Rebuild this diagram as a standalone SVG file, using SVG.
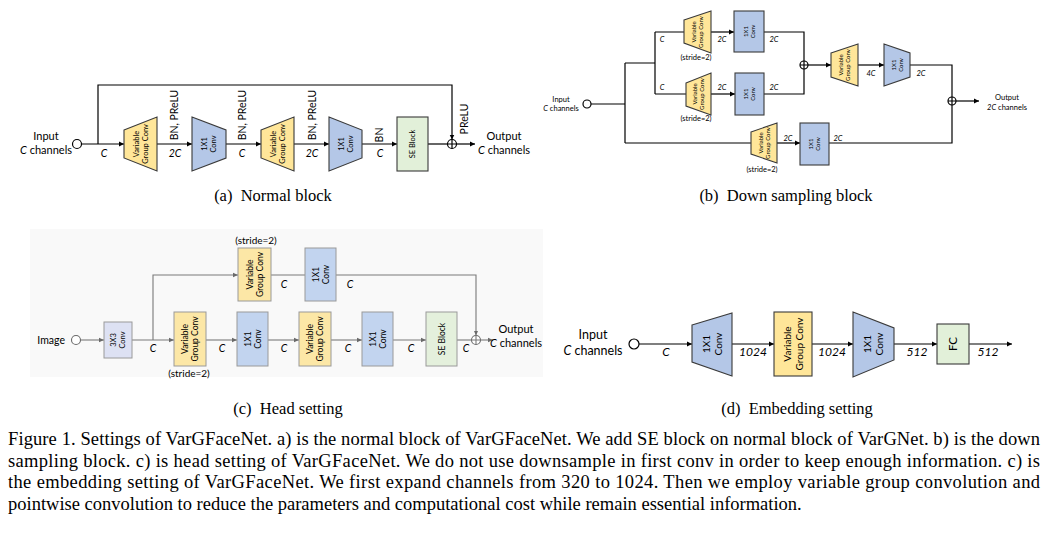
<svg xmlns="http://www.w3.org/2000/svg" width="1051" height="534" viewBox="0 0 1051 534">
<defs>
<marker id="ar" markerUnits="userSpaceOnUse" markerWidth="6" markerHeight="6" refX="5" refY="3" orient="auto"><path d="M0,0.5 L5,3 L0,5.5 Z" fill="#000"/></marker>
<marker id="arg" markerUnits="userSpaceOnUse" markerWidth="6" markerHeight="6" refX="5" refY="3" orient="auto"><path d="M0,0.8 L5,3 L0,5.2 Z" fill="#6a6a6a"/></marker>
<style>
.ln{fill:none;stroke:#000;stroke-width:1.2}
.lng{fill:none;stroke:#7a7a7a;stroke-width:1.1}
.yel{fill:#ffe699;stroke:#3a3a3a;stroke-width:1.1}
.blu{fill:#b4c7e7;stroke:#3a3a3a;stroke-width:1.1}
.grn{fill:#e2f0d9;stroke:#3a3a3a;stroke-width:1.1}
.yelc{fill:#fce7a6;stroke:#9a9a9a;stroke-width:1}
.bluc{fill:#c2d4ef;stroke:#9a9a9a;stroke-width:1}
.grnc{fill:#e4f0dc;stroke:#9a9a9a;stroke-width:1}
.lavc{fill:#dde1f3;stroke:#9a9a9a;stroke-width:1}
.circ{fill:#fff;stroke:#000;stroke-width:1.2}
.circg{fill:#fff;stroke:#6a6a6a;stroke-width:1.1}
text{font-family:Lato,"Liberation Sans",sans-serif;fill:#000}
.mid{text-anchor:middle}
.it{font-style:italic}
.cap{font-family:"Liberation Serif","Times New Roman",serif;font-size:16.5px}
.fig{font-family:"Liberation Serif","Times New Roman",serif;font-size:18.5px}
</style>
</defs>

<!-- ========== (a) Normal block ========== -->
<g id="a-connectors">
<path class="ln" d="M98,144 V85 H452 V139.5" marker-end="url(#ar)"/>
<path class="ln" d="M81.5,144 H124" marker-end="url(#ar)"/>
<path class="ln" d="M157,144 H192" marker-end="url(#ar)"/>
<path class="ln" d="M226,144 H261" marker-end="url(#ar)"/>
<path class="ln" d="M294,144 H329" marker-end="url(#ar)"/>
<path class="ln" d="M362,144 H397" marker-end="url(#ar)"/>
<path class="ln" d="M428,144 H447.5"/>
<path class="ln" d="M456.5,144 H475" marker-end="url(#ar)"/>
</g>
<g id="a-input">
<circle class="circ" cx="77" cy="144" r="4.5"/>
<text class="mid" x="46" y="140" font-size="11">Input</text>
<text class="mid" x="46" y="154" font-size="11"><tspan class="it">C</tspan> channels</text>
</g>
<g id="a-vgc1">
<polygon class="yel" points="124,130 157,117 157,171 124,158"/>
<text class="mid" transform="translate(140.5,144) rotate(-90)" font-size="7.5"><tspan x="0" y="-1.8">Variable</tspan><tspan x="0" y="7.2">Group Conv</tspan></text>
</g>
<g id="a-conv1">
<polygon class="blu" points="192,117 226,130 226,158 192,171"/>
<text class="mid" transform="translate(209,144) rotate(-90)" font-size="7.5"><tspan x="0" y="-1.8">1X1</tspan><tspan x="0" y="7.2">Conv</tspan></text>
</g>
<g id="a-vgc2">
<polygon class="yel" points="261,130 294,117 294,171 261,158"/>
<text class="mid" transform="translate(277.5,144) rotate(-90)" font-size="7.5"><tspan x="0" y="-1.8">Variable</tspan><tspan x="0" y="7.2">Group Conv</tspan></text>
</g>
<g id="a-conv2">
<polygon class="blu" points="329,117 362,130 362,158 329,171"/>
<text class="mid" transform="translate(345.5,144) rotate(-90)" font-size="7.5"><tspan x="0" y="-1.8">1X1</tspan><tspan x="0" y="7.2">Conv</tspan></text>
</g>
<g id="a-se">
<rect class="grn" x="397" y="117" width="31" height="54"/>
<text class="mid" transform="translate(412.5,144) rotate(-90)" font-size="7.5" y="2.7">SE Block</text>
</g>
<g id="a-add">
<circle class="circ" cx="452" cy="144" r="4.5"/>
<path class="ln" d="M447.5,144 H456.5 M452,139.5 V148.5"/>
</g>
<g id="a-labels">
<text class="mid" transform="translate(177.5,115) rotate(-90)" font-size="10.5">BN, PReLU</text>
<text class="mid" transform="translate(245.5,115) rotate(-90)" font-size="10.5">BN, PReLU</text>
<text class="mid" transform="translate(315.5,115) rotate(-90)" font-size="10.5">BN, PReLU</text>
<text class="mid" transform="translate(382.5,135) rotate(-90)" font-size="10.5">BN</text>
<text class="mid" transform="translate(467.5,119) rotate(-90)" font-size="10.5">PReLU</text>
<text class="mid it" x="104" y="157" font-size="10.5">C</text>
<text class="mid it" x="175" y="157" font-size="10.5">2C</text>
<text class="mid it" x="242" y="157" font-size="10.5">C</text>
<text class="mid it" x="312" y="157" font-size="10.5">2C</text>
<text class="mid it" x="380" y="157" font-size="10.5">C</text>
<text class="mid" x="504" y="140" font-size="11">Output</text>
<text class="mid" x="504" y="154" font-size="11"><tspan class="it">C</tspan> channels</text>
</g>
<text class="cap mid" x="273" y="201" xml:space="preserve">(a)  Normal block</text>

<!-- ========== (b) Down sampling block ========== -->
<g id="b-connectors">
<path class="ln" d="M591,104 H625 M625,63 V143 M625,63 H655 M655,32 V94 M655,32 H684 M655,94 H686 M625,143 H751"/>
<path class="ln" d="M711,32 H734" marker-end="url(#ar)"/>
<path class="ln" d="M711,94 H735" marker-end="url(#ar)"/>
<path class="ln" d="M777,143 H800" marker-end="url(#ar)"/>
<path class="ln" d="M764,32 H804 V61 M764,94 H804 V69"/>
<path class="ln" d="M808,65 H831" marker-end="url(#ar)"/>
<path class="ln" d="M858,65 H884" marker-end="url(#ar)"/>
<path class="ln" d="M910,65 H952 V97 M829,143 H952 V105"/>
<path class="ln" d="M956,101 H979" marker-end="url(#ar)"/>
</g>
<g id="b-input">
<circle class="circ" cx="587" cy="104" r="4"/>
<text class="mid" x="561" y="101.5" font-size="7.5">Input</text>
<text class="mid" x="561" y="111" font-size="7.5"><tspan class="it">C</tspan> channels</text>
</g>
<g id="b-vgc1">
<polygon class="yel" points="684,20 711,11 711,53 684,43"/>
<text class="mid" transform="translate(697.5,32) rotate(-90)" font-size="6"><tspan x="0" y="-1.4">Variable</tspan><tspan x="0" y="5.8">Group Conv</tspan></text>
<text class="mid" x="696" y="60" font-size="7.5">(stride=2)</text>
</g>
<g id="b-conv1">
<rect class="blu" x="734" y="11" width="30" height="41"/>
<text class="mid" transform="translate(749,31.5) rotate(-90)" font-size="6"><tspan x="0" y="-1.4">1X1</tspan><tspan x="0" y="5.8">Conv</tspan></text>
</g>
<g id="b-vgc2">
<polygon class="yel" points="686,83 711,73 711,115 686,106"/>
<text class="mid" transform="translate(698.5,94) rotate(-90)" font-size="6"><tspan x="0" y="-1.4">Variable</tspan><tspan x="0" y="5.8">Group Conv</tspan></text>
<text class="mid" x="696" y="121" font-size="7.5">(stride=2)</text>
</g>
<g id="b-conv2">
<rect class="blu" x="735" y="73" width="29" height="42"/>
<text class="mid" transform="translate(749.5,94) rotate(-90)" font-size="6"><tspan x="0" y="-1.4">1X1</tspan><tspan x="0" y="5.8">Conv</tspan></text>
</g>
<g id="b-add1">
<circle class="circ" cx="804" cy="65" r="4"/>
<path class="ln" d="M800,65 H808 M804,61 V69"/>
</g>
<g id="b-vgc3">
<polygon class="yel" points="831,53 858,44 858,86 831,77"/>
<text class="mid" transform="translate(844.5,65) rotate(-90)" font-size="6"><tspan x="0" y="-1.4">Variable</tspan><tspan x="0" y="5.8">Group Conv</tspan></text>
</g>
<g id="b-conv3">
<polygon class="blu" points="884,44 910,53 910,77 884,86"/>
<text class="mid" transform="translate(897,65) rotate(-90)" font-size="6"><tspan x="0" y="-1.4">1X1</tspan><tspan x="0" y="5.8">Conv</tspan></text>
</g>
<g id="b-vgc4">
<polygon class="yel" points="751,132 777,123 777,163 751,154"/>
<text class="mid" transform="translate(764,143) rotate(-90)" font-size="6"><tspan x="0" y="-1.4">Variable</tspan><tspan x="0" y="5.8">Group Conv</tspan></text>
<text class="mid" x="762" y="172" font-size="7.5">(stride=2)</text>
</g>
<g id="b-conv4">
<rect class="blu" x="800" y="123" width="29" height="42"/>
<text class="mid" transform="translate(814.5,144) rotate(-90)" font-size="6"><tspan x="0" y="-1.4">1X1</tspan><tspan x="0" y="5.8">Conv</tspan></text>
</g>
<g id="b-add2">
<circle class="circ" cx="952" cy="101" r="4"/>
<path class="ln" d="M948,101 H956 M952,97 V105"/>
</g>
<g id="b-labels" font-size="7.5">
<text class="mid it" x="662" y="42" font-size="7.5">C</text>
<text class="mid it" x="662" y="90" font-size="7.5">C</text>
<text class="mid it" x="722" y="42" font-size="7.5">2C</text>
<text class="mid it" x="774" y="42" font-size="7.5">2C</text>
<text class="mid it" x="722" y="90" font-size="7.5">2C</text>
<text class="mid it" x="774" y="90" font-size="7.5">2C</text>
<text class="mid it" x="871" y="76" font-size="7.5">4C</text>
<text class="mid it" x="921" y="76" font-size="7.5">2C</text>
<text class="mid it" x="788" y="141" font-size="7.5">2C</text>
<text class="mid it" x="838" y="141" font-size="7.5">2C</text>
<text class="mid" x="1007" y="100" font-size="7.5">Output</text>
<text class="mid" x="1007" y="110" font-size="7.5"><tspan class="it">2C</tspan> channels</text>
</g>
<text class="cap mid" x="786" y="201" xml:space="preserve">(b)  Down sampling block</text>

<!-- ========== (c) Head setting ========== -->
<rect x="30" y="229" width="513" height="148" fill="#f9f9f9"/>
<g id="c-connectors">
<path class="lng" d="M80.5,340 H104" marker-end="url(#arg)"/>
<path class="lng" d="M132,340 H174" marker-end="url(#arg)"/>
<path class="lng" d="M153,340 V275 H238" marker-end="url(#arg)"/>
<path class="lng" d="M206,340 H237" marker-end="url(#arg)"/>
<path class="lng" d="M268,340 H299" marker-end="url(#arg)"/>
<path class="lng" d="M331,340 H362" marker-end="url(#arg)"/>
<path class="lng" d="M393,340 H426" marker-end="url(#arg)"/>
<path class="lng" d="M457,340 H471.5"/>
<path class="lng" d="M271,275 H305"/>
<path class="lng" d="M336,275 H476 V335.5" marker-end="url(#arg)"/>
<path class="lng" d="M480.5,340 H493" marker-end="url(#arg)"/>
</g>
<g id="c-input">
<circle class="circg" cx="76" cy="340" r="4.5"/>
<text x="65" y="344" font-size="10.5" text-anchor="end">Image</text>
</g>
<g id="c-conv3x3">
<rect class="lavc" x="104" y="322" width="28" height="36"/>
<text class="mid" transform="translate(118,340) rotate(-90)" font-size="7.5"><tspan x="0" y="-1.8">3X3</tspan><tspan x="0" y="7.2">Conv</tspan></text>
</g>
<g id="c-vgc1">
<rect class="yelc" x="174" y="312" width="32" height="54"/>
<text class="mid" transform="translate(190,339) rotate(-90)" font-size="8.5"><tspan x="0" y="-2">Variable</tspan><tspan x="0" y="8.2">Group Conv</tspan></text>
<text class="mid" x="189" y="377" font-size="10">(stride=2)</text>
</g>
<g id="c-conv1">
<rect class="bluc" x="237" y="312" width="31" height="54"/>
<text class="mid" transform="translate(252.5,339) rotate(-90)" font-size="8.5"><tspan x="0" y="-2">1X1</tspan><tspan x="0" y="8.2">Conv</tspan></text>
</g>
<g id="c-vgc2">
<rect class="yelc" x="299" y="312" width="32" height="54"/>
<text class="mid" transform="translate(315,339) rotate(-90)" font-size="8.5"><tspan x="0" y="-2">Variable</tspan><tspan x="0" y="8.2">Group Conv</tspan></text>
</g>
<g id="c-conv2">
<rect class="bluc" x="362" y="312" width="31" height="54"/>
<text class="mid" transform="translate(377.5,339) rotate(-90)" font-size="8.5"><tspan x="0" y="-2">1X1</tspan><tspan x="0" y="8.2">Conv</tspan></text>
</g>
<g id="c-se">
<rect class="grnc" x="426" y="312" width="31" height="54"/>
<text class="mid" transform="translate(441.5,339) rotate(-90)" font-size="8.5" y="3">SE Block</text>
</g>
<g id="c-vgc-top">
<rect class="yelc" x="238" y="248" width="33" height="53"/>
<text class="mid" transform="translate(254.5,274.5) rotate(-90)" font-size="8.5"><tspan x="0" y="-2">Variable</tspan><tspan x="0" y="8.2">Group Conv</tspan></text>
<text class="mid" x="256" y="244" font-size="10">(stride=2)</text>
</g>
<g id="c-conv-top">
<rect class="bluc" x="305" y="248" width="31" height="53"/>
<text class="mid" transform="translate(320.5,274.5) rotate(-90)" font-size="8.5"><tspan x="0" y="-2">1X1</tspan><tspan x="0" y="8.2">Conv</tspan></text>
</g>
<g id="c-add">
<circle class="circg" cx="476" cy="340" r="4.5"/>
<path class="lng" d="M471.5,340 H480.5 M476,335.5 V344.5"/>
</g>
<g id="c-labels">
<text class="mid it" x="153" y="352" font-size="10.5">C</text>
<text class="mid it" x="222" y="352" font-size="10.5">C</text>
<text class="mid it" x="284" y="352" font-size="10.5">C</text>
<text class="mid it" x="348" y="352" font-size="10.5">C</text>
<text class="mid it" x="411" y="352" font-size="10.5">C</text>
<text class="mid it" x="466" y="352" font-size="10.5">C</text>
<text class="mid it" x="284" y="288" font-size="10.5">C</text>
<text class="mid it" x="350" y="288" font-size="10.5">C</text>
<text class="mid" x="516" y="333" font-size="11">Output</text>
<text class="mid" x="516" y="347" font-size="11"><tspan class="it">C</tspan> channels</text>
</g>
<text class="cap mid" x="288" y="414" xml:space="preserve">(c)  Head setting</text>

<!-- ========== (d) Embedding setting ========== -->
<g id="d-connectors">
<path class="ln" d="M639,344 H692" marker-end="url(#ar)"/>
<path class="ln" d="M732,344 H774" marker-end="url(#ar)"/>
<path class="ln" d="M812,344 H853" marker-end="url(#ar)"/>
<path class="ln" d="M894,344 H937" marker-end="url(#ar)"/>
<path class="ln" d="M969,344 H1012" marker-end="url(#ar)"/>
</g>
<g id="d-input">
<circle class="circ" cx="634" cy="344" r="5"/>
<text class="mid" x="593" y="339" font-size="12.5">Input</text>
<text class="mid" x="593" y="355" font-size="12.5"><tspan class="it">C</tspan> channels</text>
</g>
<g id="d-conv1">
<polygon class="blu" points="692,325 732,313 732,376 692,362"/>
<text class="mid" transform="translate(712,344) rotate(-90)" font-size="10"><tspan x="0" y="-2.4">1X1</tspan><tspan x="0" y="9.6">Conv</tspan></text>
</g>
<g id="d-vgc">
<rect class="yel" x="774" y="312" width="38" height="64"/>
<text class="mid" transform="translate(793,344) rotate(-90)" font-size="10"><tspan x="0" y="-2.4">Variable</tspan><tspan x="0" y="9.6">Group Conv</tspan></text>
</g>
<g id="d-conv2">
<polygon class="blu" points="853,312 894,328 894,360 853,377"/>
<text class="mid" transform="translate(873.5,344) rotate(-90)" font-size="10"><tspan x="0" y="-2.4">1X1</tspan><tspan x="0" y="9.6">Conv</tspan></text>
</g>
<g id="d-fc">
<rect class="grn" x="937" y="324" width="32" height="40"/>
<text class="mid" transform="translate(953,344) rotate(-90)" font-size="11.5" y="4">FC</text>
</g>
<g id="d-labels">
<text class="mid it" x="666" y="356" font-size="12">C</text>
<text class="mid it" x="753" y="356" font-size="12">1024</text>
<text class="mid it" x="832" y="356" font-size="12">1024</text>
<text class="mid it" x="917" y="356" font-size="12">512</text>
<text class="mid it" x="988" y="356" font-size="12">512</text>
</g>
<text class="cap mid" x="797" y="414" xml:space="preserve">(d)  Embedding setting</text>

<!-- ========== Figure caption ========== -->
<g id="figure-caption">
<text class="fig" x="8" y="445" textLength="1032" lengthAdjust="spacing">Figure 1. Settings of VarGFaceNet. a) is the normal block of VarGFaceNet. We add SE block on normal block of VarGNet. b) is the down</text>
<text class="fig" x="8" y="466.5" textLength="1032" lengthAdjust="spacing">sampling block. c) is head setting of VarGFaceNet. We do not use downsample in first conv in order to keep enough information. c) is</text>
<text class="fig" x="8" y="488" textLength="1032" lengthAdjust="spacing">the embedding setting of VarGFaceNet. We first expand channels from 320 to 1024. Then we employ variable group convolution and</text>
<text class="fig" x="8" y="509.5">pointwise convolution to reduce the parameters and computational cost while remain essential information.</text>
</g>
</svg>
